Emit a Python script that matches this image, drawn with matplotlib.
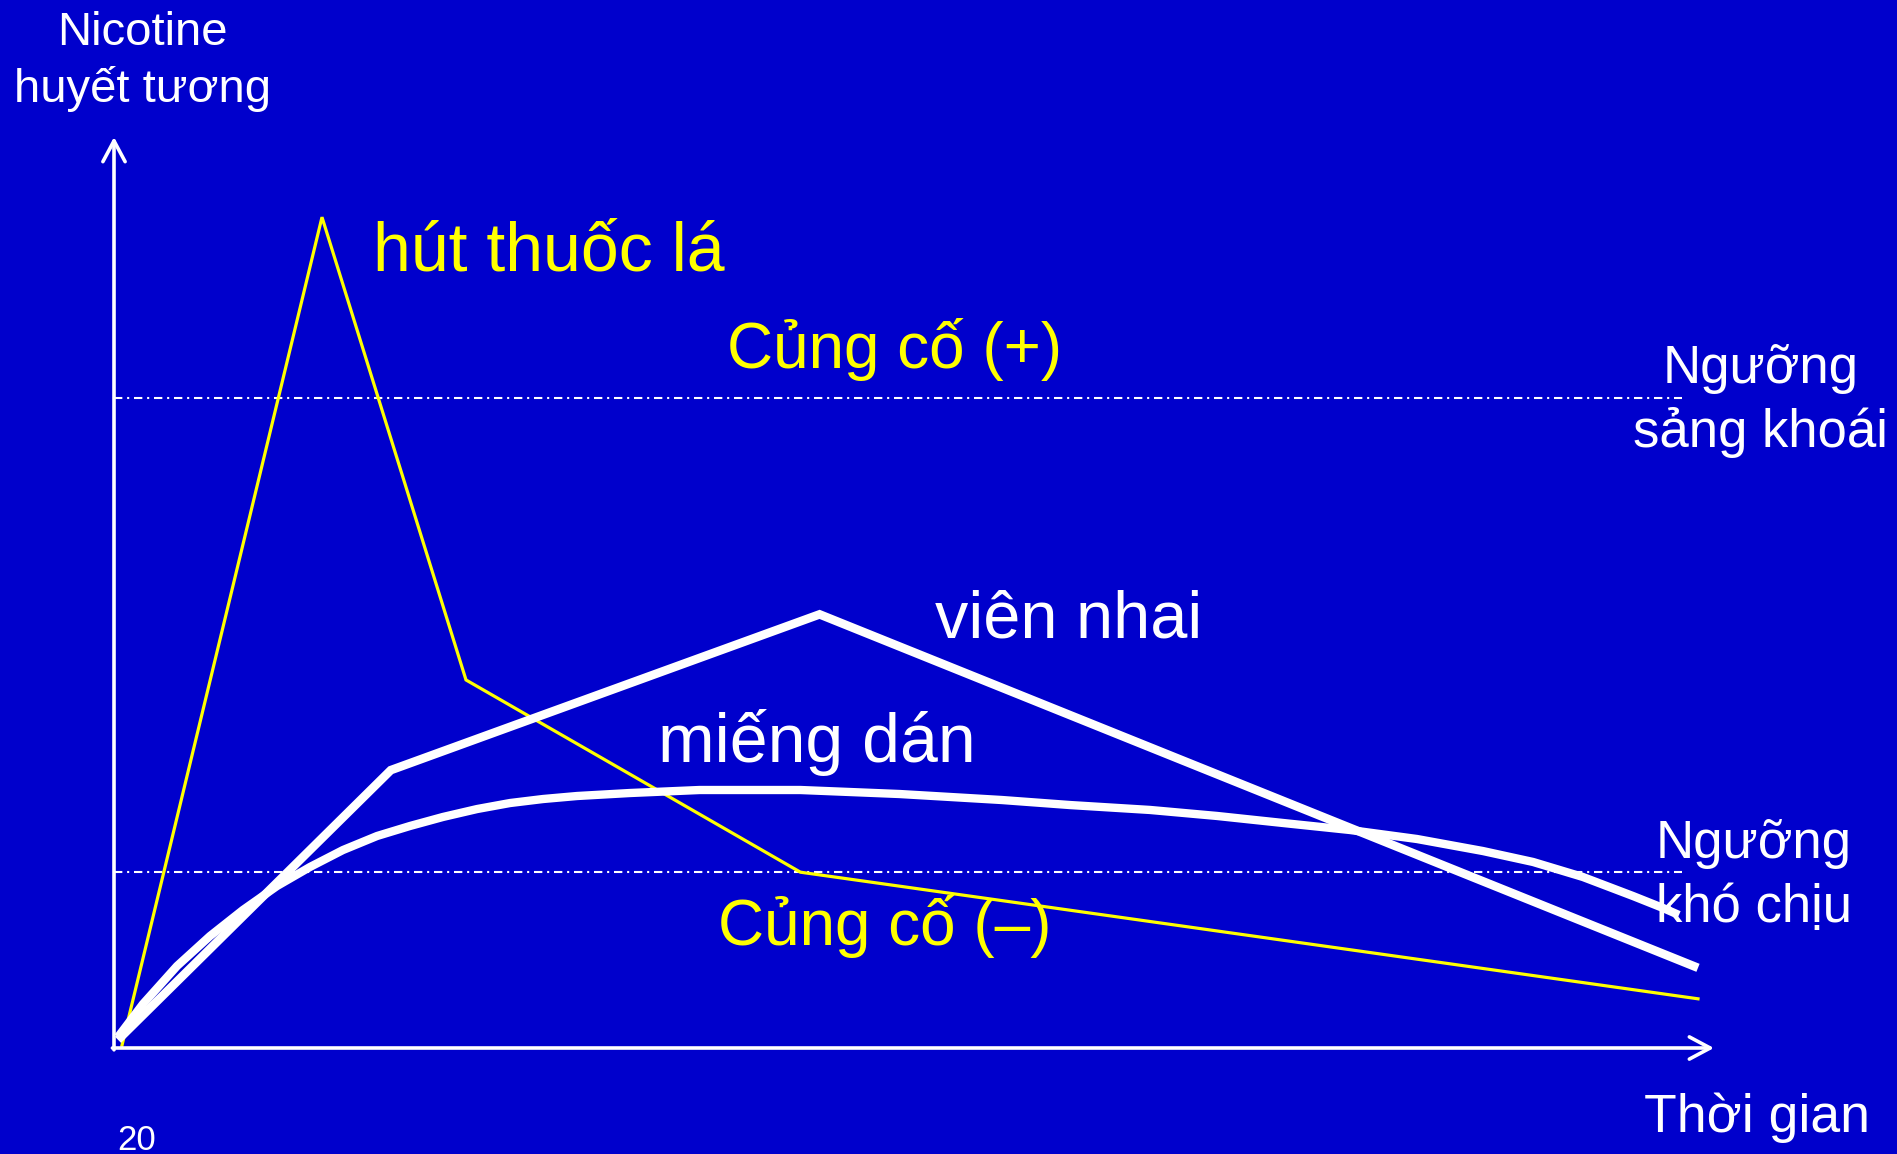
import matplotlib
matplotlib.use("Agg")
import matplotlib.pyplot as plt

plt.rcParams['font.family'] = ['Liberation Sans', 'DejaVu Sans']

# ---- data (time units, concentration units) ----
smoke_t = [0.5, 13.0, 22.0, 42.9, 99.0]
smoke_c = [0.3, 91.2, 40.4, 19.3, 5.4]

gum_t = [0.25, 17.3, 44.1, 99.0]
gum_c = [0.9, 30.5, 47.6, 8.8]

patch_t = [0.25, 1.81, 3.94, 6.0, 8.06, 10.19, 12.25, 14.31, 16.44, 18.5, 20.56, 22.69,
           24.75, 26.81, 28.94, 32.25, 36.6, 42.9, 49.1, 55.5, 59.75, 64.75, 68.94,
           73.06, 77.25, 81.44, 85.56, 88.69, 91.81, 94.94, 96.81, 97.81]
patch_c = [1.21, 4.83, 9.00, 12.29, 15.15, 17.78, 19.87, 21.73, 23.27, 24.37, 25.36,
           26.23, 26.89, 27.33, 27.66, 27.99, 28.32, 28.32, 27.88, 27.22, 26.67, 26.13,
           25.47, 24.70, 23.93, 22.94, 21.62, 20.42, 18.77, 16.68, 15.37, 14.6]

upper_threshold = 71.35
lower_threshold = 19.3
threshold_end_t = 98.0
axis_end_t = 100.0
axis_end_c = 100.0

BG = '#0000CC'
YEL = '#FFFF00'
WHITE = '#FFFFFF'

fig = plt.figure(figsize=(18.97, 11.54), dpi=100, facecolor=BG)
ax = fig.add_axes([0, 0, 1, 1])
ax.set_facecolor(BG)
ax.set_xlim(-114 / 16, (1897 - 114) / 16)
ax.set_ylim((1048 - 1154) / 9.11, 1048 / 9.11)
ax.axis('off')

# axes with arrows
arrow_style = '->,head_length=0.75,head_width=0.4'
ax.annotate('', xy=(0, axis_end_c), xytext=(0, -0.2),
            arrowprops=dict(arrowstyle=arrow_style, color=WHITE, lw=2.6,
                            mutation_scale=20, shrinkA=0, shrinkB=0))
ax.annotate('', xy=(axis_end_t, 0), xytext=(-0.1, 0),
            arrowprops=dict(arrowstyle=arrow_style, color=WHITE, lw=2.6,
                            mutation_scale=20, shrinkA=0, shrinkB=0))

# thresholds
dashdot = (0, (4, 2.3, 1, 2.3))
ax.plot([0, threshold_end_t], [upper_threshold, upper_threshold], color=WHITE,
        lw=1.5, linestyle=dashdot)
ax.plot([0, threshold_end_t], [lower_threshold, lower_threshold], color=WHITE,
        lw=1.5, linestyle=dashdot)

# curves
ax.plot(smoke_t, smoke_c, color=YEL, lw=2.3, solid_joinstyle='miter')
ax.plot(gum_t, gum_c, color=WHITE, lw=6.2, solid_joinstyle='miter', solid_capstyle='butt')
ax.plot(patch_t, patch_c, color=WHITE, lw=6.0, solid_joinstyle='round', solid_capstyle='butt')

# texts
ax.text(1.75, 110.1, 'Nicotine', color=WHITE, fontsize=34, ha='center', va='baseline')
ax.text(1.75, 103.8, 'huyết tương', color=WHITE, fontsize=34, ha='center', va='baseline')
ax.text(16.2, 85.4, 'hút thuốc lá', color=YEL, fontsize=49, ha='left', va='baseline')
ax.text(38.3, 74.6, 'Củng cố (+)', color=YEL, fontsize=46, ha='left', va='baseline')
ax.text(102.9, 73.0, 'Ngưỡng', color=WHITE, fontsize=38, ha='center', va='baseline')
ax.text(102.9, 66.0, 'sảng khoái', color=WHITE, fontsize=38, ha='center', va='baseline')
ax.text(51.3, 45.1, 'viên nhai', color=WHITE, fontsize=48, ha='left', va='baseline')
ax.text(34.0, 31.4, 'miếng dán', color=WHITE, fontsize=49, ha='left', va='baseline')
ax.text(37.75, 11.3, 'Củng cố (–)', color=YEL, fontsize=46, ha='left', va='baseline')
ax.text(102.5, 20.9, 'Ngưỡng', color=WHITE, fontsize=38, ha='center', va='baseline')
ax.text(102.5, 13.8, 'khó chịu', color=WHITE, fontsize=38, ha='center', va='baseline')
ax.text(102.7, -9.2, 'Thời gian', color=WHITE, fontsize=38.5, ha='center', va='baseline')
ax.text(0.2, -11.2, '20', color=WHITE, fontsize=25, ha='left', va='baseline')

fig.savefig('out.png', dpi=100, facecolor=BG)
